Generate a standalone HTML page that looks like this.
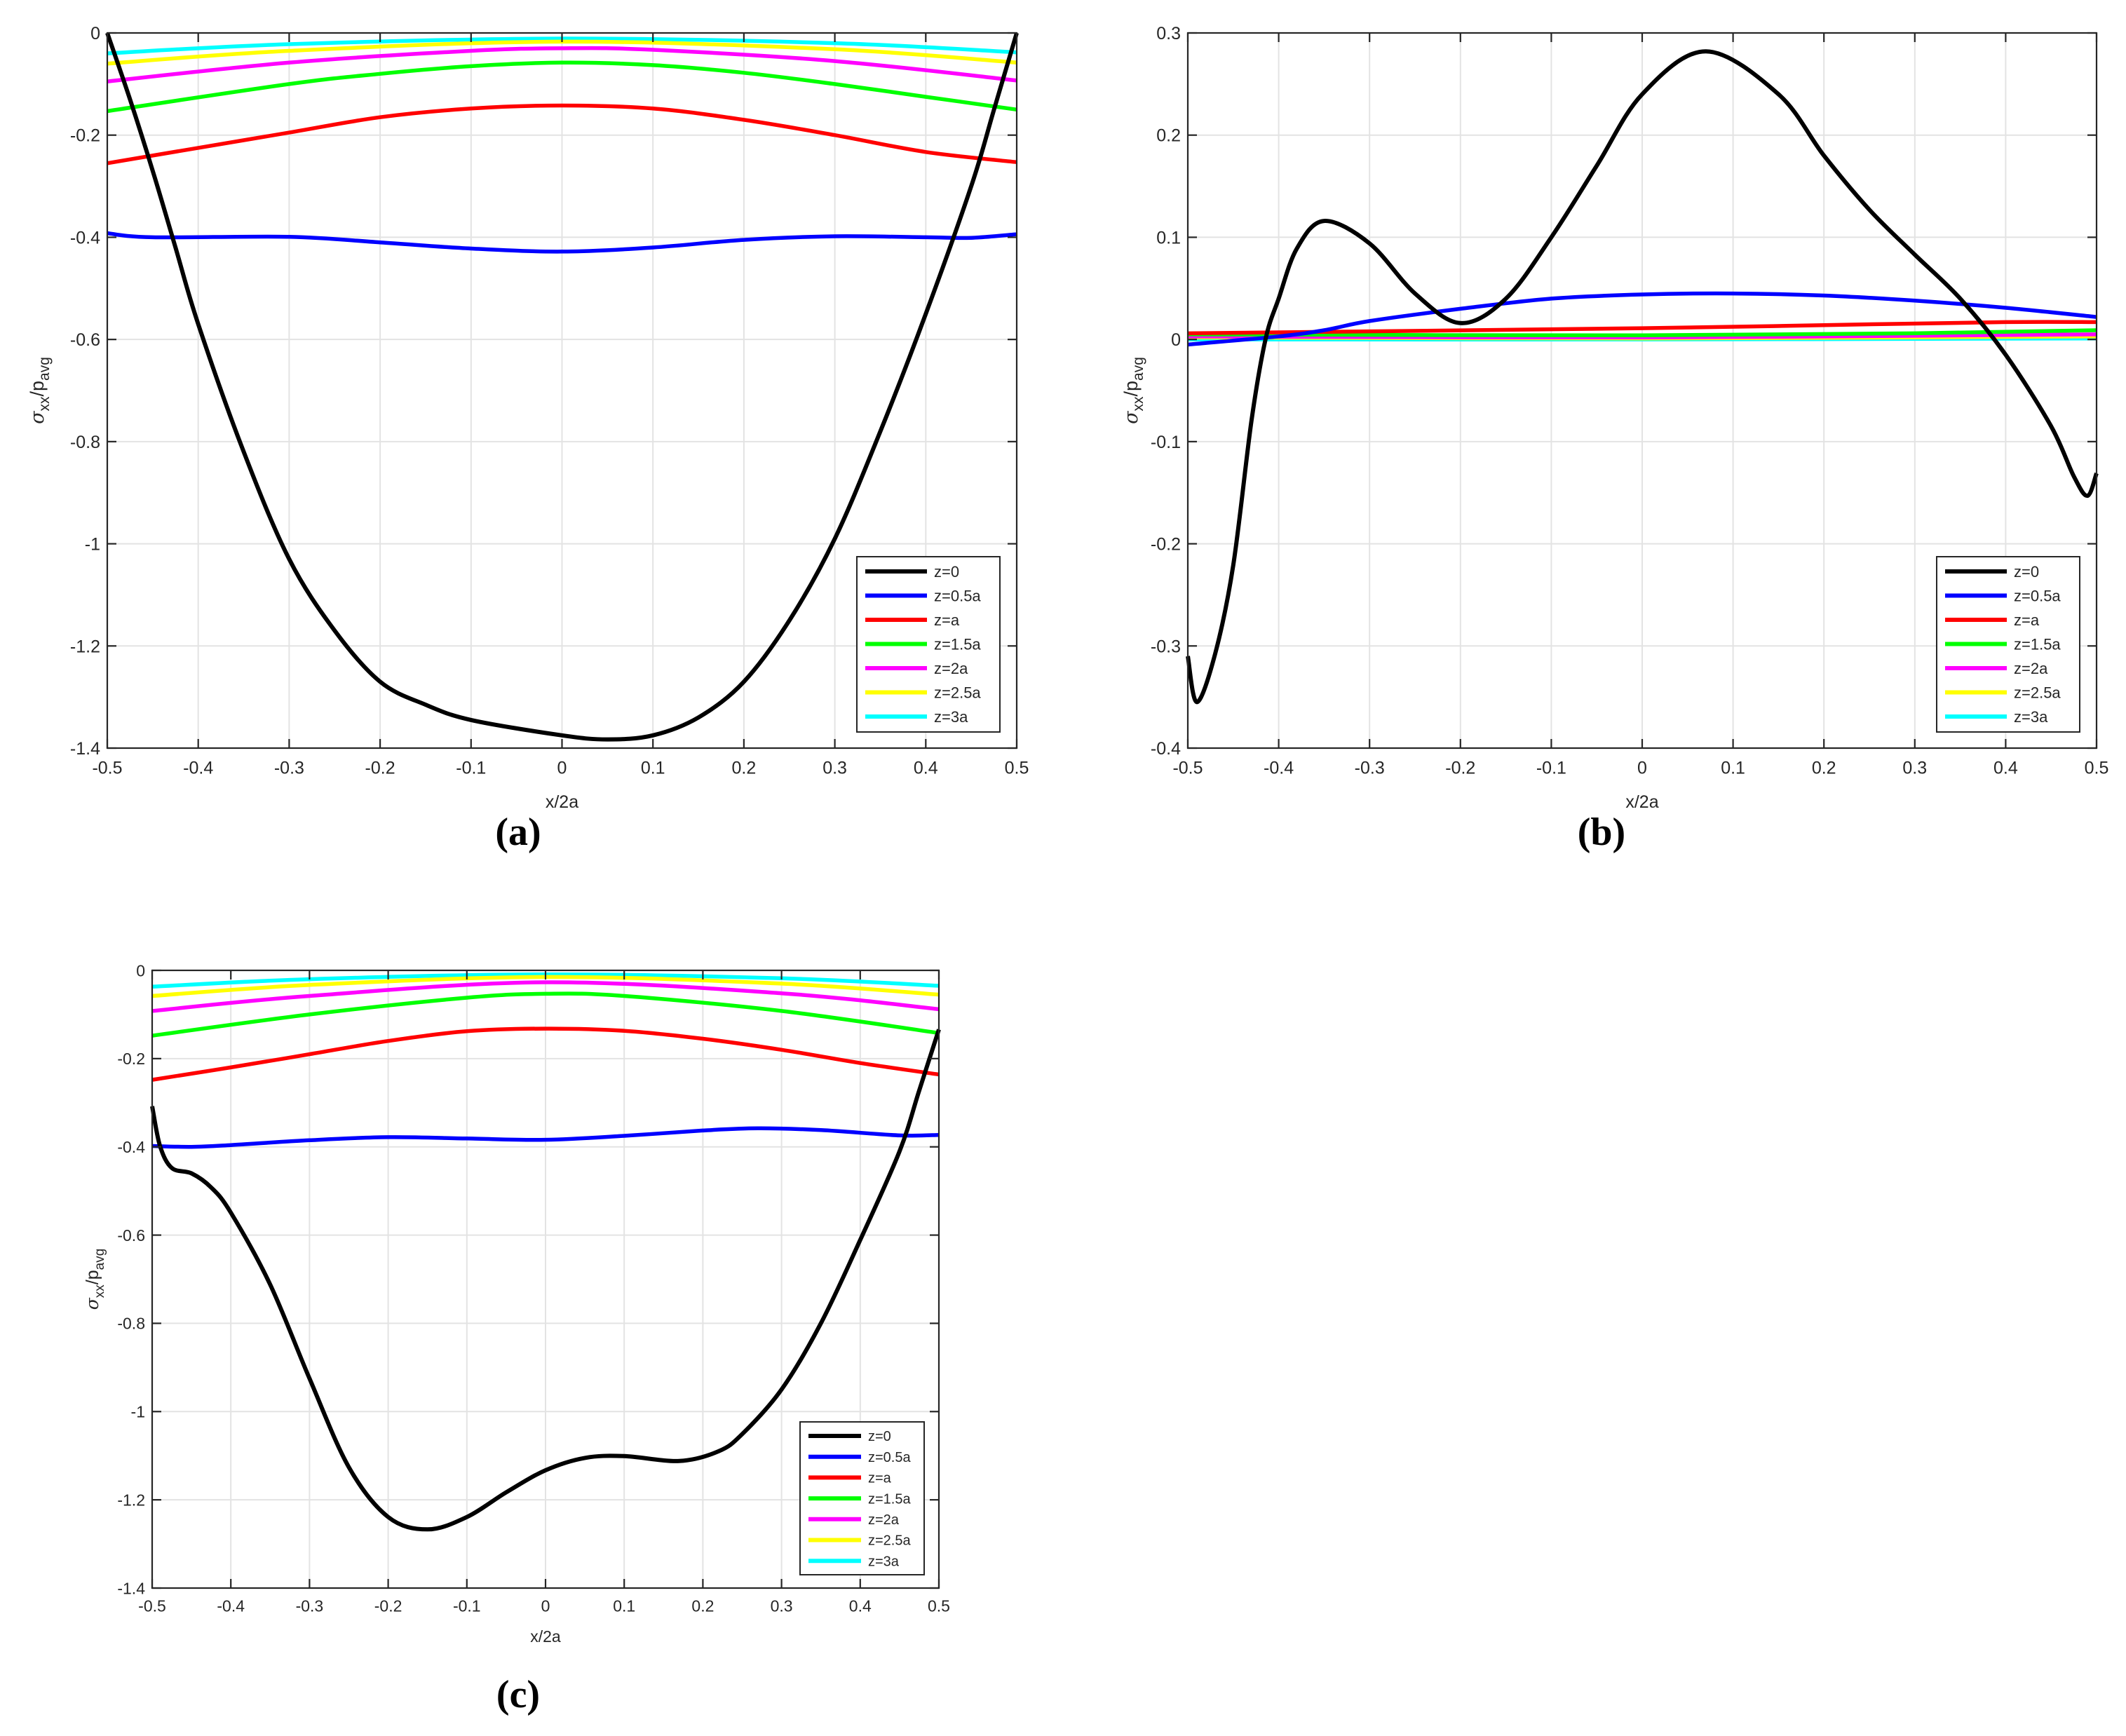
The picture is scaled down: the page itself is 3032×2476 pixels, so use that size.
<!DOCTYPE html>
<html><head><meta charset="utf-8"><style>
html,body{margin:0;padding:0;background:#fff}
svg{display:block}
text{font-family:"Liberation Sans",sans-serif;fill:#262626}
</style></head>
<body>
<svg id="chart" width="3032" height="2476" viewBox="0 0 3032 2476" xmlns="http://www.w3.org/2000/svg"></svg>
<script>
const seriesNames = ["z=0","z=0.5a","z=a","z=1.5a","z=2a","z=2.5a","z=3a"];
const seriesColors = ["#000000","#0000ff","#ff0000","#00ff00","#ff00ff","#ffff00","#00ffff"];
const xTicks = [-0.5,-0.4,-0.3,-0.2,-0.1,0,0.1,0.2,0.3,0.4,0.5];
const xTickLabels = ["-0.5","-0.4","-0.3","-0.2","-0.1","0","0.1","0.2","0.3","0.4","0.5"];
const yTicksAC = [0,-0.2,-0.4,-0.6,-0.8,-1,-1.2,-1.4];
const yTickLabelsAC = ["0","-0.2","-0.4","-0.6","-0.8","-1","-1.2","-1.4"];
const yTicksB = [0.3,0.2,0.1,0,-0.1,-0.2,-0.3,-0.4];
const yTickLabelsB = ["0.3","0.2","0.1","0","-0.1","-0.2","-0.3","-0.4"];

// Panel (a)
const aBlackX = [-0.5,-0.475,-0.45,-0.425,-0.4,-0.35,-0.3,-0.25,-0.2,-0.15,-0.1,0,0.05,0.1,0.15,0.2,0.25,0.3,0.35,0.4,0.45,0.475,0.5];
const aBlackY = [0,-0.13,-0.27,-0.42,-0.57,-0.82,-1.03,-1.17,-1.27,-1.315,-1.345,-1.375,-1.383,-1.375,-1.34,-1.27,-1.15,-0.99,-0.78,-0.55,-0.3,-0.15,0];
const aBlueX = [-0.5,-0.45,-0.3,-0.2,-0.1,0,0.1,0.2,0.3,0.4,0.45,0.5];
const aBlueY = [-0.392,-0.4,-0.399,-0.41,-0.422,-0.428,-0.42,-0.405,-0.398,-0.4,-0.401,-0.394];
const aRedX = [-0.5,-0.4,-0.3,-0.2,-0.1,0,0.1,0.2,0.3,0.4,0.5];
const aRedY = [-0.255,-0.225,-0.195,-0.165,-0.148,-0.142,-0.148,-0.17,-0.2,-0.233,-0.253];
const aGreenX = [-0.5,-0.3,-0.2,-0.1,0,0.1,0.2,0.3,0.4,0.5];
const aGreenY = [-0.153,-0.1,-0.08,-0.065,-0.058,-0.063,-0.078,-0.1,-0.125,-0.15];
const aMagX = [-0.5,-0.3,-0.1,0,0.1,0.3,0.5];
const aMagY = [-0.095,-0.058,-0.035,-0.03,-0.033,-0.055,-0.093];
const aYelX = [-0.5,-0.3,0,0.3,0.5];
const aYelY = [-0.06,-0.035,-0.017,-0.032,-0.058];
const aCyanX = [-0.5,-0.3,0,0.3,0.5];
const aCyanY = [-0.04,-0.022,-0.011,-0.02,-0.038];

// Panel (b)
const bBlackX = [-0.5,-0.49,-0.47,-0.45,-0.43,-0.4145,-0.4,-0.38,-0.35,-0.3,-0.25,-0.2,-0.15,-0.1,-0.05,0,0.07,0.15,0.2,0.25,0.3,0.35,0.4,0.45,0.475,0.49,0.5];
const bBlackY = [-0.31,-0.355,-0.308,-0.221,-0.08,0,0.04,0.089,0.116,0.094,0.045,0.016,0.04,0.1,0.17,0.24,0.282,0.24,0.18,0.127,0.083,0.04,-0.015,-0.085,-0.134,-0.153,-0.131];
const bBlueX = [-0.5,-0.4,-0.35,-0.3,-0.2,-0.1,0,0.1,0.2,0.3,0.4,0.5];
const bBlueY = [-0.005,0.003,0.009,0.018,0.03,0.04,0.044,0.045,0.043,0.038,0.031,0.022];
const bRedX = [-0.5,0,0.2,0.4,0.5];
const bRedY = [0.006,0.011,0.014,0.017,0.017];
const bGreenX = [-0.5,0,0.3,0.5];
const bGreenY = [0.005,0.004,0.006,0.009];
const bMagX = [-0.5,0,0.5];
const bMagY = [0.003,0.002,0.005];
const bYelX = [-0.5,0,0.5];
const bYelY = [0.002,0.001,0.003];
const bCyanX = [-0.5,0,0.5];
const bCyanY = [0.0,0.0,0.001];

// Panel (c)
const cBlackX = [-0.5,-0.49,-0.475,-0.45,-0.425,-0.4,-0.35,-0.3,-0.25,-0.2,-0.15,-0.1,-0.05,0,0.05,0.1,0.17,0.22,0.25,0.3,0.35,0.4,0.45,0.475,0.5];
const cBlackY = [-0.308,-0.398,-0.448,-0.46,-0.492,-0.549,-0.712,-0.925,-1.126,-1.239,-1.267,-1.239,-1.183,-1.133,-1.105,-1.101,-1.112,-1.09,-1.051,-0.95,-0.8,-0.611,-0.41,-0.272,-0.134];
const cBlueX = [-0.5,-0.45,-0.4,-0.3,-0.2,-0.1,0,0.1,0.2,0.27,0.35,0.45,0.5];
const cBlueY = [-0.398,-0.4,-0.396,-0.385,-0.378,-0.381,-0.384,-0.375,-0.363,-0.358,-0.362,-0.374,-0.373];
const cRedX = [-0.5,-0.4,-0.3,-0.2,-0.1,0,0.1,0.2,0.3,0.4,0.5];
const cRedY = [-0.248,-0.22,-0.19,-0.16,-0.138,-0.132,-0.137,-0.155,-0.18,-0.21,-0.236];
const cGreenX = [-0.5,-0.3,-0.1,0,0.1,0.3,0.5];
const cGreenY = [-0.148,-0.1,-0.062,-0.053,-0.058,-0.092,-0.142];
const cMagX = [-0.5,-0.3,0,0.3,0.5];
const cMagY = [-0.092,-0.058,-0.027,-0.052,-0.088];
const cYelX = [-0.5,-0.3,0,0.3,0.5];
const cYelY = [-0.058,-0.033,-0.015,-0.03,-0.055];
const cCyanX = [-0.5,-0.3,0,0.3,0.5];
const cCyanY = [-0.037,-0.02,-0.009,-0.018,-0.035];

const NS = "http://www.w3.org/2000/svg";
const svg = document.getElementById("chart");
function mk(tag, parent, attrs){
  const e = document.createElementNS(NS, tag);
  for (const k in attrs) e.setAttribute(k, attrs[k]);
  parent.appendChild(e);
  return e;
}
function smoothPath(pts){
  let d = "M" + pts[0][0].toFixed(1) + "," + pts[0][1].toFixed(1);
  for (let i = 0; i < pts.length - 1; i++){
    const p0 = pts[Math.max(0,i-1)], p1 = pts[i], p2 = pts[i+1], p3 = pts[Math.min(pts.length-1,i+2)];
    const c1x = p1[0] + (p2[0]-p0[0])/6, c1y = p1[1] + (p2[1]-p0[1])/6;
    const c2x = p2[0] - (p3[0]-p1[0])/6, c2y = p2[1] - (p3[1]-p1[1])/6;
    d += "C" + c1x.toFixed(1)+","+c1y.toFixed(1)+" "+c2x.toFixed(1)+","+c2y.toFixed(1)+" "+p2[0].toFixed(1)+","+p2[1].toFixed(1);
  }
  return d;
}

function drawPanel(cfg){
  const g = mk("g", svg, {});
  
  
  const L = cfg.left, R = cfg.right, T = cfg.top, B = cfg.bottom;
  const xs = v => L + (v - (-0.5)) / 1.0 * (R - L);
  const ys = v => T + (cfg.ymax - v) / (cfg.ymax - cfg.ymin) * (B - T);
  const grid = mk("g", g, {stroke:"#e3e3e3","stroke-width":2});
  
  
  xTicks.forEach(v => mk("line", grid, {x1:xs(v),x2:xs(v),y1:T,y2:B}));
  cfg.yTicks.forEach(v => mk("line", grid, {x1:L,x2:R,y1:ys(v),y2:ys(v)}));
  const clip = mk("clipPath", g, {id:"clip-"+cfg.id});
  mk("rect", clip, {x:L-4,y:T-4,width:R-L+8,height:B-T+8});
  const sg = mk("g", g, {"clip-path":"url(#clip-"+cfg.id+")"});
  for (let s = cfg.series.length - 1; s >= 0; s--){
    const xsArr = cfg.series[s][0], ysArr = cfg.series[s][1];
    const pts = xsArr.map((x,i) => [xs(x), ys(ysArr[i])]);
    const p = mk("path", sg, {d:smoothPath(pts), fill:"none", stroke:seriesColors[s], "stroke-width": s===0?6:5.5, "stroke-linejoin":"round"});
    
    
  }
  const ax = mk("g", g, {stroke:"#262626","stroke-width":2.2,fill:"none"});
  
  
  mk("rect", ax, {x:L,y:T,width:R-L,height:B-T});
  const tl = 13;
  xTicks.forEach(v => { mk("line", ax, {x1:xs(v),x2:xs(v),y1:B,y2:B-tl}); mk("line", ax, {x1:xs(v),x2:xs(v),y1:T,y2:T+tl}); });
  cfg.yTicks.forEach(v => { mk("line", ax, {x1:L,x2:L+tl,y1:ys(v),y2:ys(v)}); mk("line", ax, {x1:R,x2:R-tl,y1:ys(v),y2:ys(v)}); });
  const xl = mk("g", g, {"font-size":cfg.fs,"text-anchor":"middle"});
  
  
  xTicks.forEach((v,i) => { const t = mk("text", xl, {x:xs(v), y:B+cfg.fs*1.45}); t.textContent = xTickLabels[i]; });
  const yl = mk("g", g, {"font-size":cfg.fs,"text-anchor":"end"});
  
  
  cfg.yTicks.forEach((v,i) => { const t = mk("text", yl, {x:L-10, y:ys(v)+cfg.fs*0.36}); t.textContent = cfg.yLabels[i]; });
  const xt = mk("text", g, {x:(L+R)/2, y:cfg.xTitleY, "font-size":cfg.fs, "text-anchor":"middle"});
  xt.textContent = "x/2a";
  
  
  const cy = (T+B)/2;
  const yt = mk("text", g, {x:0, y:0, "font-size":cfg.fs+2, "text-anchor":"middle", transform:"translate("+cfg.yTitleX+","+cy+") rotate(-90)"});
  yt.innerHTML = '<tspan font-family="DejaVu Serif, serif" font-style="italic">σ</tspan><tspan font-size="'+(cfg.fs-4)+'" dy="8">xx</tspan><tspan dy="-8">/p</tspan><tspan font-size="'+(cfg.fs-4)+'" dy="8">avg</tspan>';
  
  
  const lg = mk("g", g, {});
  
  
  const lb = cfg.legend;
  mk("rect", lg, {x:lb.x, y:lb.y, width:lb.w, height:lb.h, fill:"#fff", stroke:"#262626", "stroke-width":2});
  seriesNames.forEach((n,i) => {
    const yy = lb.y + lb.first + i*lb.step;
    const e = mk("g", lg, {});
    
    
    mk("line", e, {x1:lb.x+12, x2:lb.x+12+lb.seg, y1:yy, y2:yy, stroke:seriesColors[i], "stroke-width":6});
    const t = mk("text", e, {x:lb.x+22+lb.seg, y:yy+lb.fs*0.36, "font-size":lb.fs});
    t.textContent = n;
  });
  const pl = mk("text", g, {x:cfg.labelX, y:cfg.labelY, "font-size":56, "font-weight":"bold", "text-anchor":"middle", style:"font-family:'Liberation Serif',serif;fill:#000"});
  pl.textContent = "(" + cfg.id + ")";
  
  
}

drawPanel({id:"a", left:153, right:1450, top:47, bottom:1067, ymin:-1.4, ymax:0,
  yTicks:yTicksAC, yLabels:yTickLabelsAC, fs:25, xTitleY:1152, yTitleX:62,
  series:[[aBlackX,aBlackY],[aBlueX,aBlueY],[aRedX,aRedY],[aGreenX,aGreenY],[aMagX,aMagY],[aYelX,aYelY],[aCyanX,aCyanY]],
  legend:{x:1222,y:794,w:204,h:250,first:21,step:34.5,seg:88,fs:22},
  labelX:739, labelY:1205});
drawPanel({id:"b", left:1694, right:2990, top:47, bottom:1067, ymin:-0.4, ymax:0.3,
  yTicks:yTicksB, yLabels:yTickLabelsB, fs:25, xTitleY:1152, yTitleX:1622,
  series:[[bBlackX,bBlackY],[bBlueX,bBlueY],[bRedX,bRedY],[bGreenX,bGreenY],[bMagX,bMagY],[bYelX,bYelY],[bCyanX,bCyanY]],
  legend:{x:2762,y:794,w:204,h:250,first:21,step:34.5,seg:88,fs:22},
  labelX:2284, labelY:1205});
drawPanel({id:"c", left:217, right:1339, top:1384, bottom:2265, ymin:-1.4, ymax:0,
  yTicks:yTicksAC, yLabels:yTickLabelsAC, fs:23, xTitleY:2342, yTitleX:140,
  series:[[cBlackX,cBlackY],[cBlueX,cBlueY],[cRedX,cRedY],[cGreenX,cGreenY],[cMagX,cMagY],[cYelX,cYelY],[cCyanX,cCyanY]],
  legend:{x:1141,y:2028,w:177,h:218,first:20,step:29.7,seg:75,fs:20},
  labelX:739, labelY:2435});
</script>
</body></html>
